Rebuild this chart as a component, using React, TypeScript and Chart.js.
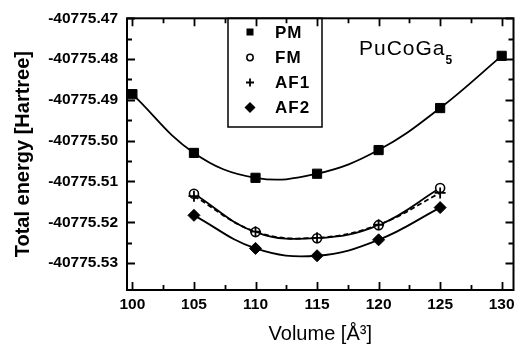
import { useEffect, useRef } from 'react';
import { Chart, registerables } from 'chart.js';

Chart.register(...registerables);

// Unit-cell volume (Å^3) for each calculation
const volumesPM = [100, 105, 110, 115, 120, 125, 130];
const volumesSpin = [105, 110, 115, 120, 125];

// Total energies (Hartree) for each magnetic configuration
const energyPM = [-40775.4886, -40775.503, -40775.5091, -40775.5081, -40775.5023, -40775.492, -40775.4792];
const energyFM = [-40775.513, -40775.5224, -40775.5239, -40775.5207, -40775.5116];
const energyAF1 = [-40775.5136, -40775.5223, -40775.5238, -40775.5206, -40775.5128];
const energyAF2 = [-40775.5183, -40775.5264, -40775.5282, -40775.5243, -40775.5164];

const seriesLabels = ['PM', 'FM', 'AF1', 'AF2'];

// Labelled ticks
const xMajorTicks = [100, 105, 110, 115, 120, 125, 130];
const yMajorTicks = [-40775.47, -40775.48, -40775.49, -40775.5, -40775.51, -40775.52, -40775.53];

const X_MIN = 99.56;
const X_MAX = 130.96;
const Y_MIN = -40775.5366;
const Y_MAX = -40775.47;

const FONT = '"Liberation Sans", Arial, sans-serif';

const midpoints = (arr: number[]) => {
  const sorted = [...arr].sort((a, b) => a - b);
  const out: number[] = [];
  for (let i = 0; i < sorted.length - 1; i++) out.push((sorted[i] + sorted[i + 1]) / 2);
  return out;
};
const xMinorTicks = midpoints(xMajorTicks);
const yMinorTicks = midpoints(yMajorTicks);

const isMajor = (v: number, majors: number[]) => majors.some((m) => Math.abs(m - v) < 1e-6);

const toPoints = (xs: number[], ys: number[]) => xs.map((x, i) => ({ x, y: ys[i] }));

// Draws the boxed frame, inward-pointing ticks, legend and compound label
const framePlugin = {
  id: 'frameAndDecor',
  afterDraw(chart: any) {
    const { ctx, chartArea } = chart;
    const { left, right, top, bottom } = chartArea;
    const xs = chart.scales.x;
    const ys = chart.scales.y;
    ctx.save();
    ctx.strokeStyle = '#000';
    ctx.fillStyle = '#000';

    // inward ticks
    ctx.lineWidth = 1.8;
    ctx.beginPath();
    [...xMajorTicks, ...xMinorTicks].forEach((v) => {
      const len = isMajor(v, xMajorTicks) ? 8 : 5;
      const px = Math.round(xs.getPixelForValue(v)) + 0.5;
      ctx.moveTo(px, bottom);
      ctx.lineTo(px, bottom - len);
      ctx.moveTo(px, top);
      ctx.lineTo(px, top + len);
    });
    [...yMajorTicks, ...yMinorTicks].forEach((v) => {
      const len = isMajor(v, yMajorTicks) ? 8 : 5;
      const py = Math.round(ys.getPixelForValue(v)) + 0.5;
      ctx.moveTo(left, py);
      ctx.lineTo(left + len, py);
      ctx.moveTo(right, py);
      ctx.lineTo(right - len, py);
    });
    ctx.stroke();

    // frame
    ctx.lineWidth = 2;
    ctx.strokeRect(left, top, right - left, bottom - top);

    // legend box
    const lx0 = 228;
    const lx1 = 322;
    const ly0 = top;
    const ly1 = 127;
    ctx.lineWidth = 1.5;
    ctx.strokeRect(lx0, ly0, lx1 - lx0, ly1 - ly0);

    const rowY = [32, 57.5, 82.5, 107.5];
    const mx = 250;
    ctx.lineWidth = 1.5;
    // square
    ctx.fillRect(mx - 3.5, rowY[0] - 3.5, 7, 7);
    // open circle
    ctx.beginPath();
    ctx.arc(mx, rowY[1], 3.2, 0, Math.PI * 2);
    ctx.stroke();
    // plus
    ctx.lineWidth = 1.8;
    ctx.beginPath();
    ctx.moveTo(mx - 4, rowY[2]);
    ctx.lineTo(mx + 4, rowY[2]);
    ctx.moveTo(mx, rowY[2] - 4);
    ctx.lineTo(mx, rowY[2] + 4);
    ctx.stroke();
    // diamond
    ctx.beginPath();
    ctx.moveTo(mx, rowY[3] - 5.5);
    ctx.lineTo(mx + 5.5, rowY[3]);
    ctx.lineTo(mx, rowY[3] + 5.5);
    ctx.lineTo(mx - 5.5, rowY[3]);
    ctx.closePath();
    ctx.fill();

    ctx.font = `bold 17px ${FONT}`;
    ctx.letterSpacing = '1px';
    ctx.textAlign = 'left';
    ctx.textBaseline = 'middle';
    seriesLabels.forEach((label, i) => {
      ctx.fillText(label, 275, rowY[i] + 1);
    });

    // compound name with subscript
    ctx.textBaseline = 'alphabetic';
    ctx.font = `21px ${FONT}`;
    ctx.letterSpacing = '1px';
    const name = 'PuCoGa';
    ctx.fillText(name, 359, 55);
    const w = ctx.measureText(name).width;
    ctx.letterSpacing = '0px';
    ctx.font = `bold 12px ${FONT}`;
    ctx.fillText('5', 359 + w, 64);

    ctx.restore();
  },
};

export default function App() {
  const canvasRef = useRef<HTMLCanvasElement | null>(null);

  useEffect(() => {
    const canvas = canvasRef.current;
    if (!canvas) return;

    const lineBase = {
      borderColor: '#000',
      borderWidth: 1.8,
      tension: 0.4,
      pointBorderColor: '#000',
      fill: false,
    };

    const chart = new Chart(canvas, {
      type: 'line',
      data: {
        datasets: [
          {
            ...lineBase,
            label: seriesLabels[0],
            data: toPoints(volumesPM, energyPM),
            pointStyle: 'rect',
            pointRadius: 6.5,
            pointBackgroundColor: '#000',
            pointBorderWidth: 1,
            order: 4,
          },
          {
            ...lineBase,
            label: seriesLabels[1],
            data: toPoints(volumesSpin, energyFM),
            pointStyle: 'circle',
            pointRadius: 4.5,
            pointBackgroundColor: '#fff',
            pointBorderWidth: 1.6,
            order: 3,
          },
          {
            ...lineBase,
            label: seriesLabels[2],
            data: toPoints(volumesSpin, energyAF1),
            borderDash: [5, 3],
            pointStyle: 'cross',
            pointRadius: 5.5,
            pointBackgroundColor: '#000',
            pointBorderWidth: 1.8,
            order: 2,
          },
          {
            ...lineBase,
            label: seriesLabels[3],
            data: toPoints(volumesSpin, energyAF2),
            pointStyle: 'rectRot',
            pointRadius: 6,
            pointBackgroundColor: '#000',
            pointBorderWidth: 1,
            order: 1,
          },
        ],
      },
      options: {
        animation: false,
        responsive: false,
        devicePixelRatio: 1,
        layout: { padding: { left: 0, right: 1, top: 18, bottom: 0 } },
        plugins: {
          legend: { display: false },
          tooltip: { enabled: false },
        },
        scales: {
          x: {
            type: 'linear',
            min: X_MIN,
            max: X_MAX,
            grid: { display: false, drawTicks: false },
            border: { display: false },
            afterBuildTicks: (scale: any) => {
              scale.ticks = [...xMajorTicks, ...xMinorTicks]
                .sort((a, b) => a - b)
                .map((value) => ({ value }));
            },
            afterFit: (scale: any) => {
              scale.height = 58;
            },
            ticks: {
              autoSkip: false,
              maxRotation: 0,
              padding: 5,
              color: '#000',
              font: { family: FONT, size: 15.5, weight: 'bold' },
              callback: (value: any) => (isMajor(Number(value), xMajorTicks) ? String(Math.round(Number(value))) : ''),
            },
            title: {
              display: true,
              text: 'Volume [Å³]',
              color: '#000',
              font: { family: FONT, size: 20 },
              padding: { top: 0, bottom: 2 },
            },
          },
          y: {
            type: 'linear',
            min: Y_MIN,
            max: Y_MAX,
            grid: { display: false, drawTicks: false },
            border: { display: false },
            afterBuildTicks: (scale: any) => {
              scale.ticks = [...yMajorTicks, ...yMinorTicks]
                .sort((a, b) => a - b)
                .map((value) => ({ value }));
            },
            afterFit: (scale: any) => {
              scale.width = 127;
            },
            ticks: {
              autoSkip: false,
              padding: 9,
              color: '#000',
              font: { family: FONT, size: 15.5, weight: 'bold' },
              callback: (value: any) => (isMajor(Number(value), yMajorTicks) ? Number(value).toFixed(2) : ''),
            },
            title: {
              display: true,
              text: 'Total energy [Hartree]',
              color: '#000',
              font: { family: FONT, size: 20, weight: 'bold' },
              padding: { top: 11, bottom: 0 },
            },
          },
        },
      },
      plugins: [framePlugin],
    });

    return () => chart.destroy();
  }, []);

  return (
    <div style={{ position: 'fixed', left: 0, top: 0, width: 521, height: 348, background: '#fff' }}>
      <canvas ref={canvasRef} width={521} height={348} />
    </div>
  );
}
